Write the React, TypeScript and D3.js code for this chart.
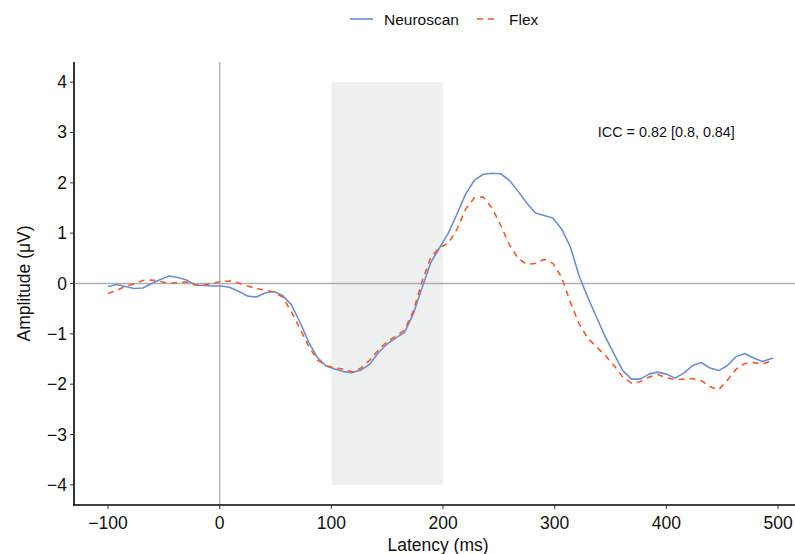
import React from "react";
import * as d3 from "d3";

const times = [
  -100, -92.2, -84.4, -76.6, -68.8, -60.9, -53.1, -45.3, -37.5, -29.7, -21.9, -14.1, -6.3,
  1.6, 9.4, 17.2, 25, 32.8, 40.6, 48.4, 56.3, 64.1, 71.9, 79.7, 87.5, 95.3, 103.1, 110.9,
  118.8, 126.6, 134.4, 142.2, 150, 157.8, 165.6, 173.4, 181.3, 189.1, 196.9, 204.7, 212.5,
  220.3, 228.1, 235.9, 243.8, 251.6, 259.4, 267.2, 275, 282.8, 290.6, 298.4, 306.3, 314.1,
  321.9, 329.7, 337.5, 345.3, 353.1, 360.9, 368.8, 376.6, 384.4, 392.2, 400, 407.8, 415.6,
  423.4, 431.3, 439.1, 446.9, 454.7, 462.5, 470.3, 478.1, 485.9, 495.5,
];

const neuroscan = [
  -0.06, -0.02, -0.06, -0.1, -0.09, 0.0, 0.08, 0.15, 0.12, 0.07, -0.03, -0.04, -0.05,
  -0.05, -0.08, -0.16, -0.25, -0.27, -0.19, -0.16, -0.24, -0.42, -0.77, -1.17, -1.47, -1.64,
  -1.7, -1.75, -1.77, -1.72, -1.6, -1.37, -1.2, -1.08, -0.97, -0.6, -0.08, 0.42, 0.71, 1.0,
  1.38, 1.78, 2.05, 2.17, 2.19, 2.18, 2.05, 1.83, 1.6, 1.4, 1.35, 1.3, 1.08, 0.72, 0.15,
  -0.28, -0.67, -1.06, -1.4, -1.73, -1.9, -1.9, -1.8, -1.76, -1.8, -1.88, -1.78, -1.63,
  -1.57, -1.68, -1.73, -1.63, -1.45, -1.39, -1.48, -1.55, -1.48,
];

const flex = [
  -0.2, -0.14, -0.05, -0.01, 0.06, 0.07, 0.04, 0.0, 0.02, 0.03, -0.03, -0.03, 0.0,
  0.04, 0.05, 0.01, -0.05, -0.1, -0.13, -0.17, -0.27, -0.56, -0.9, -1.25, -1.52, -1.63,
  -1.68, -1.7, -1.76, -1.68, -1.52, -1.32, -1.15, -1.05, -0.92, -0.55, 0.05, 0.52, 0.72, 0.8,
  1.08, 1.48, 1.7, 1.72, 1.5, 1.16, 0.77, 0.5, 0.38, 0.4, 0.48, 0.4, 0.12, -0.38, -0.8,
  -1.09, -1.26, -1.43, -1.63, -1.86, -1.98, -1.95, -1.86, -1.81, -1.87, -1.91, -1.9, -1.89,
  -1.93, -2.05, -2.11, -1.92, -1.7, -1.59, -1.57, -1.6, -1.52,
];

const xTicks = [-100, 0, 100, 200, 300, 400, 500];
const yTicks = [-4, -3, -2, -1, 0, 1, 2, 3, 4];
const windowRange = [100, 200];
const seriesNames = ["Neuroscan", "Flex"];
const iccLabel = "ICC = 0.82 [0.8, 0.84]";
const iccPos = [400, 3];

const W = 795;
const H = 554;
const FONT = "'Liberation Sans', Arial, Helvetica, sans-serif";
const BLUE = "#6b8fd1";
const RED = "#f15a2b";

const fmt = (v: number) => (v < 0 ? "\u2212" + Math.abs(v) : String(v));

export default function App() {
  const x = d3.scaleLinear().domain([-130.5, 525.5]).range([74, 806.5]);
  const y = d3.scaleLinear().domain([-4.4, 4.4]).range([505, 62]);

  const line = d3
    .line<number>()
    .x((_, i) => x(times[i]))
    .y((d) => y(d));

  const x0 = 74;
  const yBase = 505;

  return (
    <svg
      width={W}
      height={H}
      style={{ position: "absolute", left: 0, top: 0, background: "#fff" }}
      fontFamily={FONT}
    >
      <rect x={0} y={0} width={W} height={H} fill="#fff" />
      {/* shaded analysis window */}
      <rect
        x={x(windowRange[0])}
        y={y(4)}
        width={x(windowRange[1]) - x(windowRange[0])}
        height={y(-4) - y(4)}
        fill="#eef0ef"
      />
      {/* reference lines */}
      <line x1={x0} x2={W} y1={y(0)} y2={y(0)} stroke="#aeaeae" strokeWidth={1.5} />
      <line x1={x(0)} x2={x(0)} y1={62} y2={yBase} stroke="#b8b8b8" strokeWidth={1.5} />

      {/* series */}
      <path d={line(neuroscan) || ""} fill="none" stroke={BLUE} strokeWidth={1.6} strokeLinejoin="round" />
      <path
        d={line(flex) || ""}
        fill="none"
        stroke={RED}
        strokeWidth={1.6}
        strokeDasharray="6 5"
        strokeLinejoin="round"
      />

      {/* ICC annotation */}
      <text
        x={x(iccPos[0])}
        y={y(iccPos[1]) + 5}
        textAnchor="middle"
        fontSize={14}
        fill="#111"
        textLength={137}
        lengthAdjust="spacingAndGlyphs"
      >
        {iccLabel}
      </text>

      {/* axes */}
      <line x1={x0} x2={x0} y1={62} y2={yBase + 0.75} stroke="#000" strokeWidth={1.6} />
      <line x1={x0 - 0.75} x2={W} y1={yBase} y2={yBase} stroke="#000" strokeWidth={1.6} />
      {yTicks.map((t) => (
        <g key={"y" + t}>
          <line x1={x0 - 4} x2={x0} y1={y(t)} y2={y(t)} stroke="#333" strokeWidth={1} />
          <text x={x0 - 7} y={y(t) + 6} textAnchor="end" fontSize={17.5} fill="#111">
            {fmt(t)}
          </text>
        </g>
      ))}
      {xTicks.map((t) => (
        <g key={"x" + t}>
          <line x1={x(t)} x2={x(t)} y1={yBase} y2={yBase + 4} stroke="#333" strokeWidth={1} />
          <text x={x(t)} y={yBase + 24} textAnchor="middle" fontSize={17.5} fill="#111">
            {fmt(t)}
          </text>
        </g>
      ))}

      {/* axis titles */}
      <text x={438} y={551} textAnchor="middle" fontSize={17.5} fill="#111">
        Latency (ms)
      </text>
      <text
        transform={`translate(30, ${y(0)}) rotate(-90)`}
        textAnchor="middle"
        fontSize={17.5}
        fill="#111"
      >
        Amplitude (μV)
      </text>

      {/* legend */}
      <g>
        <line x1={350} x2={373} y1={19} y2={19} stroke={BLUE} strokeWidth={1.6} />
        <text x={384} y={25} fontSize={15.5} fill="#111">
          {seriesNames[0]}
        </text>
        <line x1={477} x2={498} y1={19} y2={19} stroke={RED} strokeWidth={1.6} strokeDasharray="6 5" />
        <text x={509} y={25} fontSize={15.5} fill="#111">
          {seriesNames[1]}
        </text>
      </g>
    </svg>
  );
}
